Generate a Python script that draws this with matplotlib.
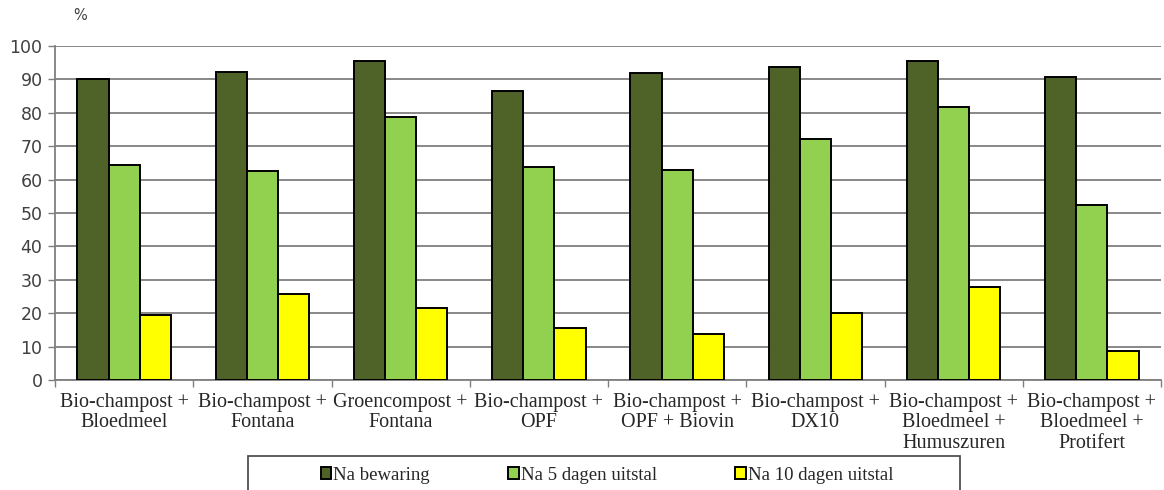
import matplotlib
matplotlib.use("Agg")
import matplotlib.pyplot as plt
from matplotlib.patches import Rectangle
import numpy as np

categories = [
    "Bio-champost +\nBloedmeel",
    "Bio-champost +\nFontana",
    "Groencompost +\nFontana",
    "Bio-champost +\nOPF",
    "Bio-champost +\nOPF + Biovin",
    "Bio-champost +\nDX10",
    "Bio-champost +\nBloedmeel +\nHumuszuren",
    "Bio-champost +\nBloedmeel +\nProtifert",
]
na_bewaring = [90.0, 92.3, 95.6, 86.4, 91.9, 93.8, 95.5, 90.8]
na_5_dagen = [64.4, 62.6, 78.7, 63.7, 63.0, 72.2, 81.7, 52.3]
na_10_dagen = [19.6, 25.7, 21.7, 15.5, 13.8, 20.2, 27.9, 8.8]
series_names = ["Na bewaring", "Na 5 dagen uitstal", "Na 10 dagen uitstal"]
colors = ["#4F6228", "#92D050", "#FFFF00"]
yticks = list(range(0, 101, 10))

W, H = 1164, 490
fig = plt.figure(figsize=(W / 100, H / 100), dpi=100)
ax = fig.add_axes([55 / W, 1 - 380 / H, (1161 - 55) / W, (380 - 46) / H])

x = np.arange(len(categories))
bw = 0.225
for i, (vals, name, col) in enumerate(zip([na_bewaring, na_5_dagen, na_10_dagen], series_names, colors)):
    ax.bar(x + (i - 1) * bw, vals, width=bw, color=col, edgecolor="black",
           linewidth=1.4, label=name, zorder=3)

ax.set_xlim(-0.5, len(categories) - 0.5)
ax.set_ylim(0, 100)
ax.set_yticks(yticks)
ax.set_yticklabels([str(t) for t in yticks], fontsize=12.5, color="#404040",
                   family="DejaVu Sans")
ax.yaxis.grid(True, color="#7f7f7f", linewidth=1.3, zorder=0)
ax.set_axisbelow(True)

# category boundaries as major ticks, labels on minor ticks at group centres
ax.set_xticks(np.arange(len(categories) + 1) - 0.5)
ax.set_xticklabels([])
ax.set_xticks(x, minor=True)
ax.set_xticklabels(categories, minor=True, fontsize=14.5, family="Liberation Serif",
                   color="#262626", linespacing=1.12)
ax.tick_params(axis="x", which="major", length=5, width=1, color="#7f7f7f", direction="out")
ax.tick_params(axis="x", which="minor", length=0, pad=9)
ax.tick_params(axis="y", length=5, width=1, color="#7f7f7f", pad=4)

for s in ["top", "right"]:
    ax.spines[s].set_visible(False)
for s in ["left", "bottom"]:
    ax.spines[s].set_color("#7f7f7f")
    ax.spines[s].set_linewidth(1.3)

fig.text(80 / W, 1 - 16 / H, "%", fontsize=10.5, color="#404040",
         family="DejaVu Sans", ha="center", va="center")

# legend box (runs off the bottom edge of the figure)
fig.patches.append(Rectangle((248 / W, -0.05), (960 - 248) / W, 1 - 456 / H + 0.05,
                             transform=fig.transFigure, facecolor="white",
                             edgecolor="#505050", linewidth=1.3, zorder=1))
leg = fig.legend(loc="center", bbox_to_anchor=(607 / W, 1 - 475 / H),
                 ncol=3, frameon=False,
                 prop={"family": "Liberation Serif", "size": 13.5},
                 handlelength=0.55, handleheight=0.55, handletextpad=0.1,
                 columnspacing=4.2, borderpad=0, borderaxespad=0)
for t in leg.get_texts():
    t.set_color("#262626")

fig.savefig("out.png", dpi=100)
